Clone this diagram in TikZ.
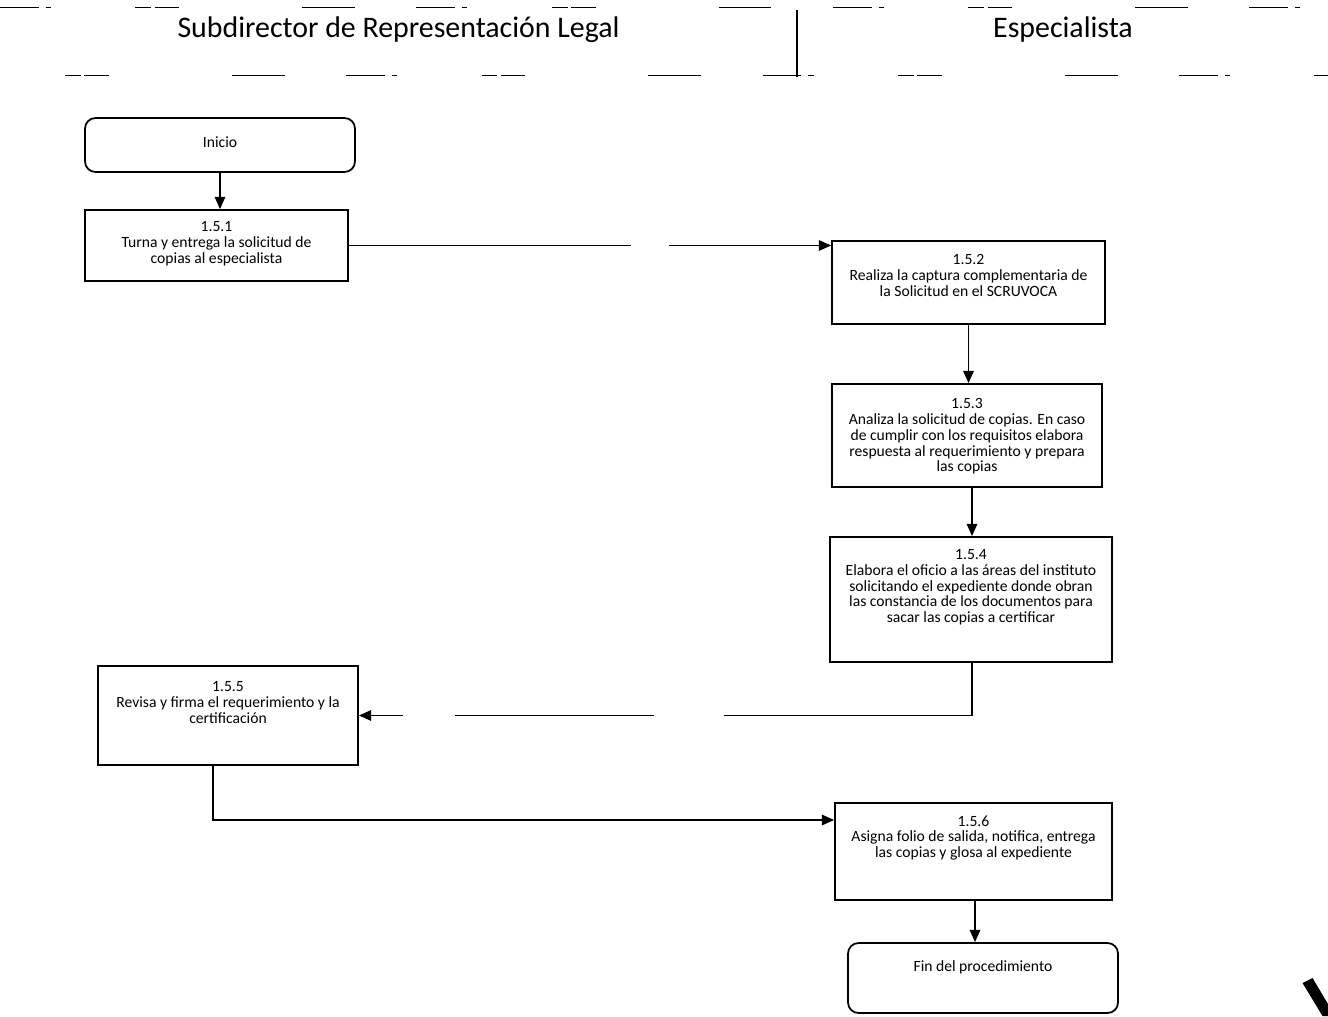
\documentclass[tikz,border=0pt]{standalone}
\usepackage{fontspec}
\setmainfont{Carlito}
\usetikzlibrary{calc}
\usetikzlibrary{arrows.meta}

\tikzset{
  procbox/.style={draw, line width=1pt, inner sep=0pt},
  termbox/.style={draw, line width=1pt, rounded corners=6pt, inner sep=0pt},
  boxtext/.style={anchor=north, align=center, inner sep=0pt, font=\fontsize{8.9}{9}\selectfont},
  lanetitle/.style={inner sep=0pt, font=\fontsize{17}{20}\selectfont},
  flow/.style={line width=0.8pt, -{Triangle[length=7pt,width=6pt]}},
  lane/.style={line width=0.5pt, dash pattern=on 22pt off 4pt on 3pt off 48pt on 9pt off 2pt on 14pt off 70pt on 30pt off 35pt}
}

\begin{document}
\begin{tikzpicture}
\useasboundingbox (0,0) rectangle (26.56,-20.32);

% header of the two lanes
\draw[lane] (0,-0.14) -- (26.56,-0.14);
\draw[lane, dash phase=40pt] (0,-1.5) -- (26.56,-1.5);
\draw[line width=0.8pt] (15.94,-0.2) -- (15.94,-1.54);
\node[lanetitle] (subdir) at (7.97,-0.6) {Subdirector de Representación Legal};
\node[lanetitle] (espec) at (21.26,-0.6) {Especialista};

% start and end
\node[termbox, minimum width=5.4cm, minimum height=1.08cm] (inicio) at (4.4,-2.9) {};
\node[boxtext, anchor=center] (tini) at ($(inicio.center)+(0,0.05)$) {Inicio};
\node[termbox, minimum width=5.4cm, minimum height=1.4cm] (fin) at (19.66,-19.56) {};
\node[boxtext] (tfin) at ($(fin.north)+(0,-0.36)$) {Fin del procedimiento};

% steps
\node[procbox, minimum width=5.26cm, minimum height=1.42cm] (s1) at (4.33,-4.91) {};
\node[boxtext] (t1) at ($(s1.north)+(0,-0.24)$) {1.5.1\\Turna y entrega la solicitud de\\copias al especialista};

\node[procbox, minimum width=5.46cm, minimum height=1.66cm] (s2) at (19.37,-5.65) {};
\node[boxtext] (t2) at ($(s2.north)+(0,-0.28)$) {1.5.2\\Realiza la captura complementaria de\\la Solicitud en el SCRUVOCA};

\node[procbox, minimum width=5.4cm, minimum height=2.06cm] (s3) at (19.34,-8.71) {};
\node[boxtext] (t3) at ($(s3.north)+(0,-0.3)$) {1.5.3\\Analiza la solicitud de copias. En caso\\de cumplir con los requisitos elabora\\respuesta al requerimiento y prepara\\las copias};

\node[procbox, minimum width=5.64cm, minimum height=2.5cm] (s4) at (19.42,-11.99) {};
\node[boxtext] (t4) at ($(s4.north)+(0,-0.26)$) {1.5.4\\Elabora el oficio a las áreas del instituto\\solicitando el expediente donde obran\\las constancia de los documentos para\\sacar las copias a certificar};

\node[procbox, minimum width=5.2cm, minimum height=1.98cm] (s5) at (4.56,-14.31) {};
\node[boxtext] (t5) at ($(s5.north)+(0,-0.32)$) {1.5.5\\Revisa y firma el requerimiento y la\\certificación};

\node[procbox, minimum width=5.54cm, minimum height=1.94cm] (s6) at (19.47,-17.03) {};
\node[boxtext] (t6) at ($(s6.north)+(0,-0.26)$) {1.5.6\\Asigna folio de salida, notifica, entrega\\las copias y glosa al expediente};

% connectors
\draw[flow] (inicio.south) -- (inicio.south |- s1.north);
\draw[flow, dash pattern=on 5.64cm off 0.76cm on 12cm] (s1.east) -- (s1.east -| s2.west);
\draw[flow] (s2.south) -- (s2.south |- s3.north);
\draw[flow] ([xshift=0.1cm]s3.south) -- ([xshift=0.1cm]s3.south |- s4.north);
\draw[flow, dash pattern=on 6.02cm off 1.4cm on 3.98cm off 1.04cm on 3cm] ([xshift=0.02cm]s4.south) |- (s5.east);
\coordinate (s5out) at ([xshift=-0.3cm]s5.south);
\coordinate (s6in) at ([yshift=0.63cm]s6.west);
\draw[flow] (s5out) |- (s6in);
\draw[flow] ([xshift=0.03cm]s6.south) -- ([xshift=0.03cm]s6.south |- fin.north);

\fill (26.05,-19.66) -- (26.25,-19.56) -- (26.56,-20.08) -- (26.56,-20.32) -- (26.45,-20.32) -- cycle;

\end{tikzpicture}
\end{document}
